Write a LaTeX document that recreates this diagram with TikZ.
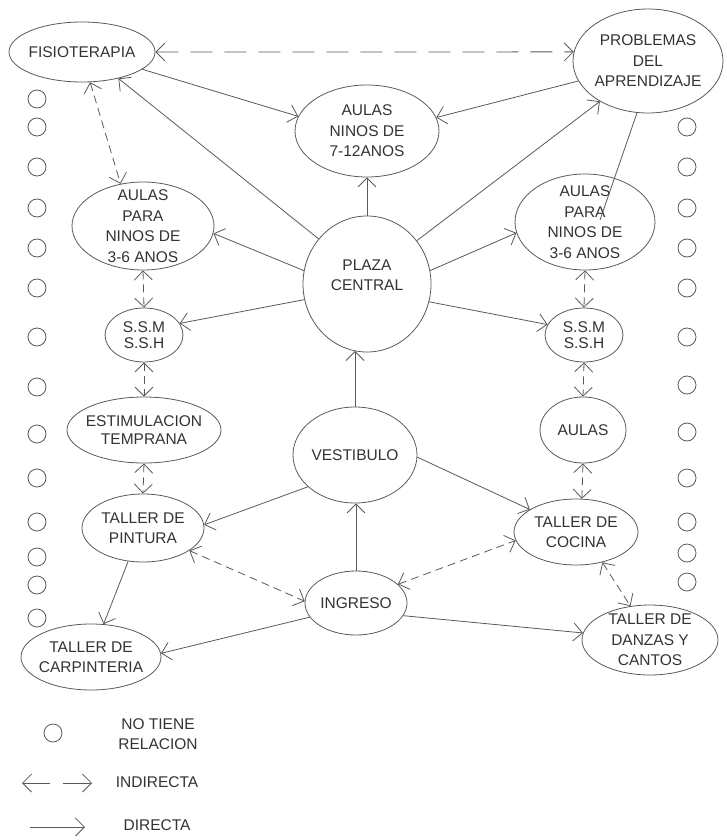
\documentclass[tikz,border=0pt]{standalone}
\usepackage{fontspec}
\setmainfont{Liberation Sans}
\usetikzlibrary{arrows.meta,shapes.geometric}
\begin{document}
\begin{tikzpicture}[x=1pt,y=-1pt,
  lw/.style={line width=0.8pt, draw=black!65},
  txt/.style={text=black!80, align=center, inner sep=0pt, font=\fontsize{15.5}{20.5}\selectfont},
  place/.style={ellipse, lw, txt, inner sep=-8pt},
  tip/.tip={Straight Barb[length=9pt,width=18pt]},
  direct/.style={lw, -tip},
  indirect/.style={lw, dash pattern=on 8pt off 5pt, tip-tip},
  longdash/.style={lw, dash pattern=on 22pt off 12pt, tip-tip},
  nonerel/.style={circle, lw, minimum size=18pt, inner sep=0pt},
]
\useasboundingbox (0,0) rectangle (727,840);

% places
\node[place, minimum width=146pt, minimum height=60pt] (fisio) at (82,52) {FISIOTERAPIA};
\node[place, minimum width=150pt, minimum height=104pt] (prob) at (648,61) {PROBLEMAS\\DEL\\APRENDIZAJE};
\node[place, minimum width=144pt, minimum height=92pt] (a712) at (367,131) {AULAS\\NINOS DE\\7-12ANOS};
\node[place, minimum width=142pt, minimum height=88pt] (aL) at (143,226) {AULAS\\PARA\\NINOS DE\\3-6 ANOS};
\node[place, minimum width=140pt, minimum height=96pt] (aR) at (585,222) {AULAS\\PARA\\NINOS DE\\3-6 ANOS};
\node[place, minimum width=128pt, minimum height=136pt] (plaza) at (367,284) {};
\node[txt] (plazatext) at (367,275) {PLAZA\\CENTRAL};
\node[place, minimum width=78pt, minimum height=54pt, font=\fontsize{15.5}{16}\selectfont] (ssmL) at (144,335) {S.S.M\\S.S.H};
\node[place, minimum width=78pt, minimum height=54pt, font=\fontsize{15.5}{16}\selectfont] (ssmR) at (584,335) {S.S.M\\S.S.H};
\node[place, minimum width=154pt, minimum height=66pt, font=\fontsize{15.5}{18}\selectfont] (estim) at (144,430) {ESTIMULACION\\TEMPRANA};
\node[place, minimum width=86pt, minimum height=66pt] (aulas) at (583,430) {AULAS};
\node[place, minimum width=124pt, minimum height=96pt] (vest) at (355,455) {VESTIBULO};
\node[place, minimum width=122pt, minimum height=68pt] (pint) at (143,528) {TALLER DE\\PINTURA};
\node[place, minimum width=124pt, minimum height=66pt] (cocina) at (576,532) {TALLER DE\\COCINA};
\node[place, minimum width=102pt, minimum height=64pt] (ingreso) at (356,603) {INGRESO};
\node[place, minimum width=140pt, minimum height=66pt] (carp) at (91,657) {TALLER DE\\CARPINTERIA};
\node[place, minimum width=136pt, minimum height=70pt] (danzas) at (650,640) {TALLER DE\\DANZAS Y\\CANTOS};

% no-relation circles
\foreach \yy [count=\i] in {99,127,167,208,248,288,337,387,434,478,522,557,585,618}
  \node[nonerel] (nl\i) at (37,\yy) {};
\foreach \yy [count=\i] in {127,167,208,248,288,337,385,432,478,522,553,582}
  \node[nonerel] (nr\i) at (687,\yy) {};

% indirect relations
\draw[longdash] (fisio.0) -- (prob.173);
\draw[indirect] (fisio.-75) -- (aL.118);
\draw[indirect] (aL.270) -- (ssmL.90);
\draw[indirect] (aR.270) -- (ssmR.90);
\draw[indirect] (ssmL.270) -- (estim.90);
\draw[indirect] (ssmR.270) -- (aulas.90);
\draw[indirect] (estim.270) -- (pint.90);
\draw[indirect] (aulas.270) -- (cocina.80);
\draw[indirect] (pint.-26) -- (ingreso.178);
\draw[indirect] (ingreso.24) -- (cocina.188);
\draw[indirect] (cocina.-49) -- (danzas.120);

% direct relations
\draw[direct] (fisio.-16) -- (a712.168);
\draw[direct] (plaza.137) -- (fisio.-36);
\draw[direct] (prob.196) -- (a712.11);
\draw[direct] (plaza.41) -- (prob.220);
\draw[direct] (plaza.90) -- (a712.270);
\draw[direct] (plaza.168) -- (aL.-6);
\draw[direct] (plaza.12) -- (aR.189);
\draw[direct] (plaza.194) -- (ssmL.18);
\draw[direct] (plaza.-16) -- (ssmR.164);
\draw[direct] (vest.214) -- (pint.3);
\draw[direct] (vest.-2) -- (cocina.154);
\draw[direct] (vest.north) -- (vest.north |- plaza.259);
\draw[direct] (ingreso.north) -- (ingreso.north |- vest.south);
\draw[direct] (pint.246) -- (carp.69);
\draw[direct] (ingreso.197) -- (carp.3);
\draw[direct] (ingreso.-15) -- (danzas.174);
\coordinate (pend) at (600,220);
\draw[lw] (prob.258) -- (pend);

% legend
\node[nonerel] (legc) at (53,733) {};
\node[txt] (legt1) at (158,734) {NO TIENE\\RELACION};
\coordinate (li1) at (50,783);
\coordinate (li2) at (22,783);
\coordinate (li3) at (63,783);
\coordinate (li4) at (92,783);
\draw[direct] (li1) -- (li2);
\draw[direct] (li3) -- (li4);
\node[txt] (legt2) at (157,782) {INDIRECTA};
\coordinate (ld1) at (30,827);
\coordinate (ld2) at (85,827);
\draw[direct] (ld1) -- (ld2);
\node[txt] (legt3) at (157,825) {DIRECTA};
\end{tikzpicture}
\end{document}
